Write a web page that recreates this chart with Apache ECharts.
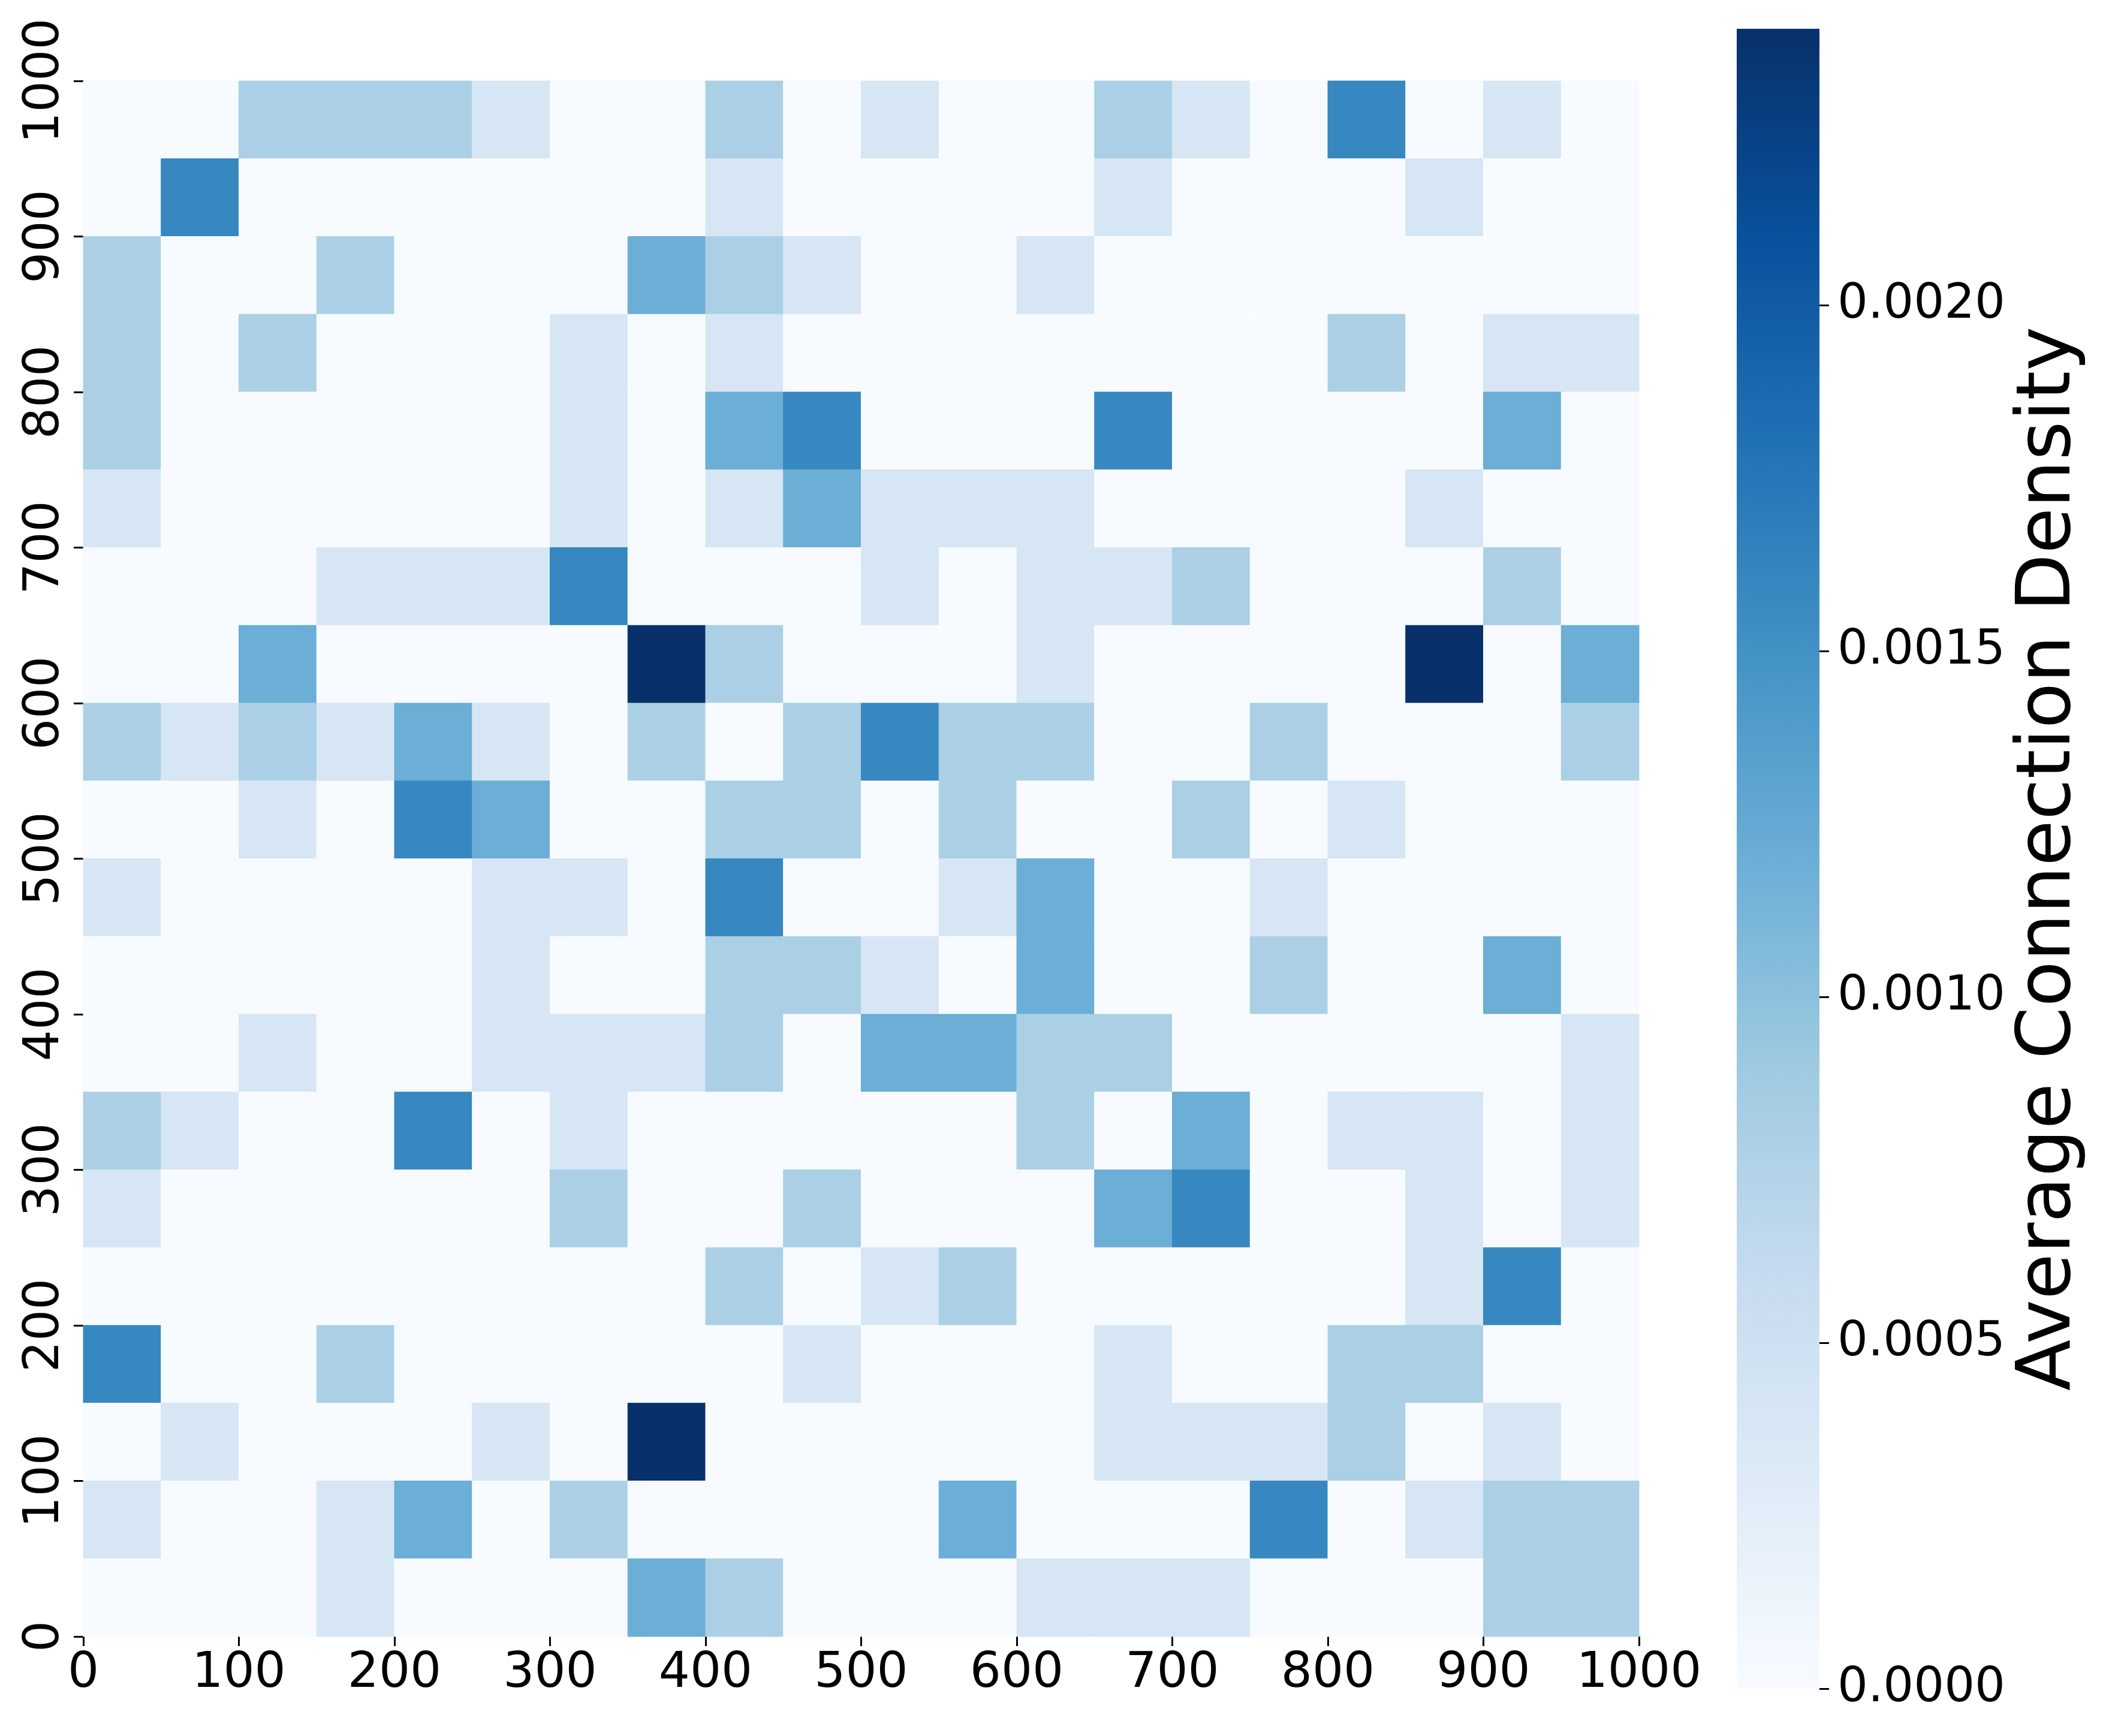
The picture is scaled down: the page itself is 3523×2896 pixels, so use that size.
<!DOCTYPE html>
<html><head><meta charset="utf-8">
<script src="https://cdn.jsdelivr.net/npm/echarts@6/dist/echarts.min.js"></script>
<style>html,body{margin:0;padding:0;background:#fff}#c{width:3523px;height:2896px}</style>
</head><body><div id="c"></div>
<script>
// bin starts (bin width 50)
const xBinStarts = [0,50,100,150,200,250,300,350,400,450,500,550,600,650,700,750,800,850,900,950];
const binSize = 50;
// Average connection density per cell, one array per y-bin (left to right in x)
const rowY950 = [0,0,0.0008,0.0008,0.0008,0.0004,0,0,0.0008,0,0.0004,0,0,0.0008,0.0004,0,0.0016,0,0.0004,0];
const rowY900 = [0,0.0016,0,0,0,0,0,0,0.0004,0,0,0,0,0.0004,0,0,0,0.0004,0,0];
const rowY850 = [0.0008,0,0,0.0008,0,0,0,0.0012,0.0008,0.0004,0,0,0.0004,0,0,0,0,0,0,0];
const rowY800 = [0.0008,0,0.0008,0,0,0,0.0004,0,0.0004,0,0,0,0,0,0,0,0.0008,0,0.0004,0.0004];
const rowY750 = [0.0008,0,0,0,0,0,0.0004,0,0.0012,0.0016,0,0,0,0.0016,0,0,0,0,0.0012,0];
const rowY700 = [0.0004,0,0,0,0,0,0.0004,0,0.0004,0.0012,0.0004,0.0004,0.0004,0,0,0,0,0.0004,0,0];
const rowY650 = [0,0,0,0.0004,0.0004,0.0004,0.0016,0,0,0,0.0004,0,0.0004,0.0004,0.0008,0,0,0,0.0008,0];
const rowY600 = [0,0,0.0012,0,0,0,0,0.0024,0.0008,0,0,0,0.0004,0,0,0,0,0.0024,0,0.0012];
const rowY550 = [0.0008,0.0004,0.0008,0.0004,0.0012,0.0004,0,0.0008,0,0.0008,0.0016,0.0008,0.0008,0,0,0.0008,0,0,0,0.0008];
const rowY500 = [0,0,0.0004,0,0.0016,0.0012,0,0,0.0008,0.0008,0,0.0008,0,0,0.0008,0,0.0004,0,0,0];
const rowY450 = [0.0004,0,0,0,0,0.0004,0.0004,0,0.0016,0,0,0.0004,0.0012,0,0,0.0004,0,0,0,0];
const rowY400 = [0,0,0,0,0,0.0004,0,0,0.0008,0.0008,0.0004,0,0.0012,0,0,0.0008,0,0,0.0012,0];
const rowY350 = [0,0,0.0004,0,0,0.0004,0.0004,0.0004,0.0008,0,0.0012,0.0012,0.0008,0.0008,0,0,0,0,0,0.0004];
const rowY300 = [0.0008,0.0004,0,0,0.0016,0,0.0004,0,0,0,0,0,0.0008,0,0.0012,0,0.0004,0.0004,0,0.0004];
const rowY250 = [0.0004,0,0,0,0,0,0.0008,0,0,0.0008,0,0,0,0.0012,0.0016,0,0,0.0004,0,0.0004];
const rowY200 = [0,0,0,0,0,0,0,0,0.0008,0,0.0004,0.0008,0,0,0,0,0,0.0004,0.0016,0];
const rowY150 = [0.0016,0,0,0.0008,0,0,0,0,0,0.0004,0,0,0,0.0004,0,0,0.0008,0.0008,0,0];
const rowY100 = [0,0.0004,0,0,0,0.0004,0,0.0024,0,0,0,0,0,0.0004,0.0004,0.0004,0.0008,0,0.0004,0];
const rowY50  = [0.0004,0,0,0.0004,0.0012,0,0.0008,0,0,0,0,0.0012,0,0,0,0.0016,0,0.0004,0.0008,0.0008];
const rowY0   = [0,0,0,0.0004,0,0,0,0.0012,0.0008,0,0,0,0.0004,0.0004,0.0004,0,0,0,0.0008,0.0008];
const rows = [[950,rowY950],[900,rowY900],[850,rowY850],[800,rowY800],[750,rowY750],[700,rowY700],
  [650,rowY650],[600,rowY600],[550,rowY550],[500,rowY500],[450,rowY450],[400,rowY400],[350,rowY350],
  [300,rowY300],[250,rowY250],[200,rowY200],[150,rowY150],[100,rowY100],[50,rowY50],[0,rowY0]];
const xTicks = [0,100,200,300,400,500,600,700,800,900,1000];
const yTicks = [0,100,200,300,400,500,600,700,800,900,1000];
const cbTicks = [0,0.0005,0.001,0.0015,0.002];
const cbMin = 0, cbMax = 0.0024;
const blues = ['#f7fbff','#deebf7','#c6dbef','#9ecae1','#6baed6','#4292c6','#2171b5','#08519c','#08306b'];

const cells = [];
rows.forEach(([y, vals]) => vals.forEach((v, i) => cells.push([xBinStarts[i], y, v])));

const FONT = 'DejaVu Sans';
const chart = echarts.init(document.getElementById('c'), null, {renderer:'canvas'});
chart.setOption({
  animation: false,
  backgroundColor: '#ffffff',
  grid: [
    {left:139, top:135, width:2595, height:2595},
    {left:2897, top:48, width:138, height:2769}
  ],
  xAxis: [
    {gridIndex:0, type:'value', min:0, max:1000, interval:100,
     axisLine:{show:false, onZero:false}, splitLine:{show:false},
     axisTick:{show:true, length:16, lineStyle:{color:'#000', width:3}, customValues:xTicks},
     axisLabel:{fontSize:82, color:'#000', fontFamily:FONT, margin:22, customValues:xTicks,
       formatter:(v)=>String(v)}},
    {gridIndex:1, type:'value', min:0, max:1, show:false}
  ],
  yAxis: [
    {gridIndex:0, type:'value', min:0, max:1000, interval:100,
     axisLine:{show:false, onZero:false}, splitLine:{show:false},
     axisTick:{show:true, length:16, lineStyle:{color:'#000', width:3}, customValues:yTicks},
     axisLabel:{fontSize:82, color:'#000', fontFamily:FONT, margin:22, rotate:90, customValues:yTicks,
       formatter:(v)=>String(v)}},
    {gridIndex:1, type:'value', position:'right', min:cbMin, max:cbMax,
     axisLine:{show:false, onZero:false}, splitLine:{show:false},
     axisTick:{show:true, length:16, lineStyle:{color:'#000', width:3}, customValues:cbTicks},
     axisLabel:{fontSize:80, color:'#000', fontFamily:FONT, margin:30, customValues:cbTicks,
       formatter:(v)=>Number(v).toFixed(4)},
     name:'Average Connection Density', nameLocation:'middle', nameRotate:90, nameGap:322,
     nameTextStyle:{fontSize:125, color:'#000', fontFamily:FONT}}
  ],
  visualMap: {type:'continuous', show:false, min:cbMin, max:cbMax, dimension:2, seriesIndex:0,
    inRange:{color:blues}},
  series: [
    {type:'custom', xAxisIndex:0, yAxisIndex:0, data:cells,
     renderItem:(params, api)=>{
       const x0 = api.value(0), y0 = api.value(1);
       const p0 = api.coord([x0, y0 + binSize]);
       const p1 = api.coord([x0 + binSize, y0]);
       const c = api.visual('color');
       return {type:'rect', shape:{x:p0[0], y:p0[1], width:p1[0]-p0[0], height:p1[1]-p0[1]},
         style:{fill:c, stroke:c, lineWidth:1}};
     }},
    {type:'custom', xAxisIndex:1, yAxisIndex:1, data:[[cbMin, cbMax]],
     renderItem:(params, api)=>{
       const p0 = api.coord([0, api.value(1)]);
       const p1 = api.coord([1, api.value(0)]);
       const stops = blues.map((col, i)=>({offset:i/(blues.length-1), color:col}));
       return {type:'rect', shape:{x:p0[0], y:p0[1], width:p1[0]-p0[0], height:p1[1]-p0[1]},
         style:{fill:new echarts.graphic.LinearGradient(0,1,0,0,stops)}};
     }}
  ]
});
</script></body></html>
